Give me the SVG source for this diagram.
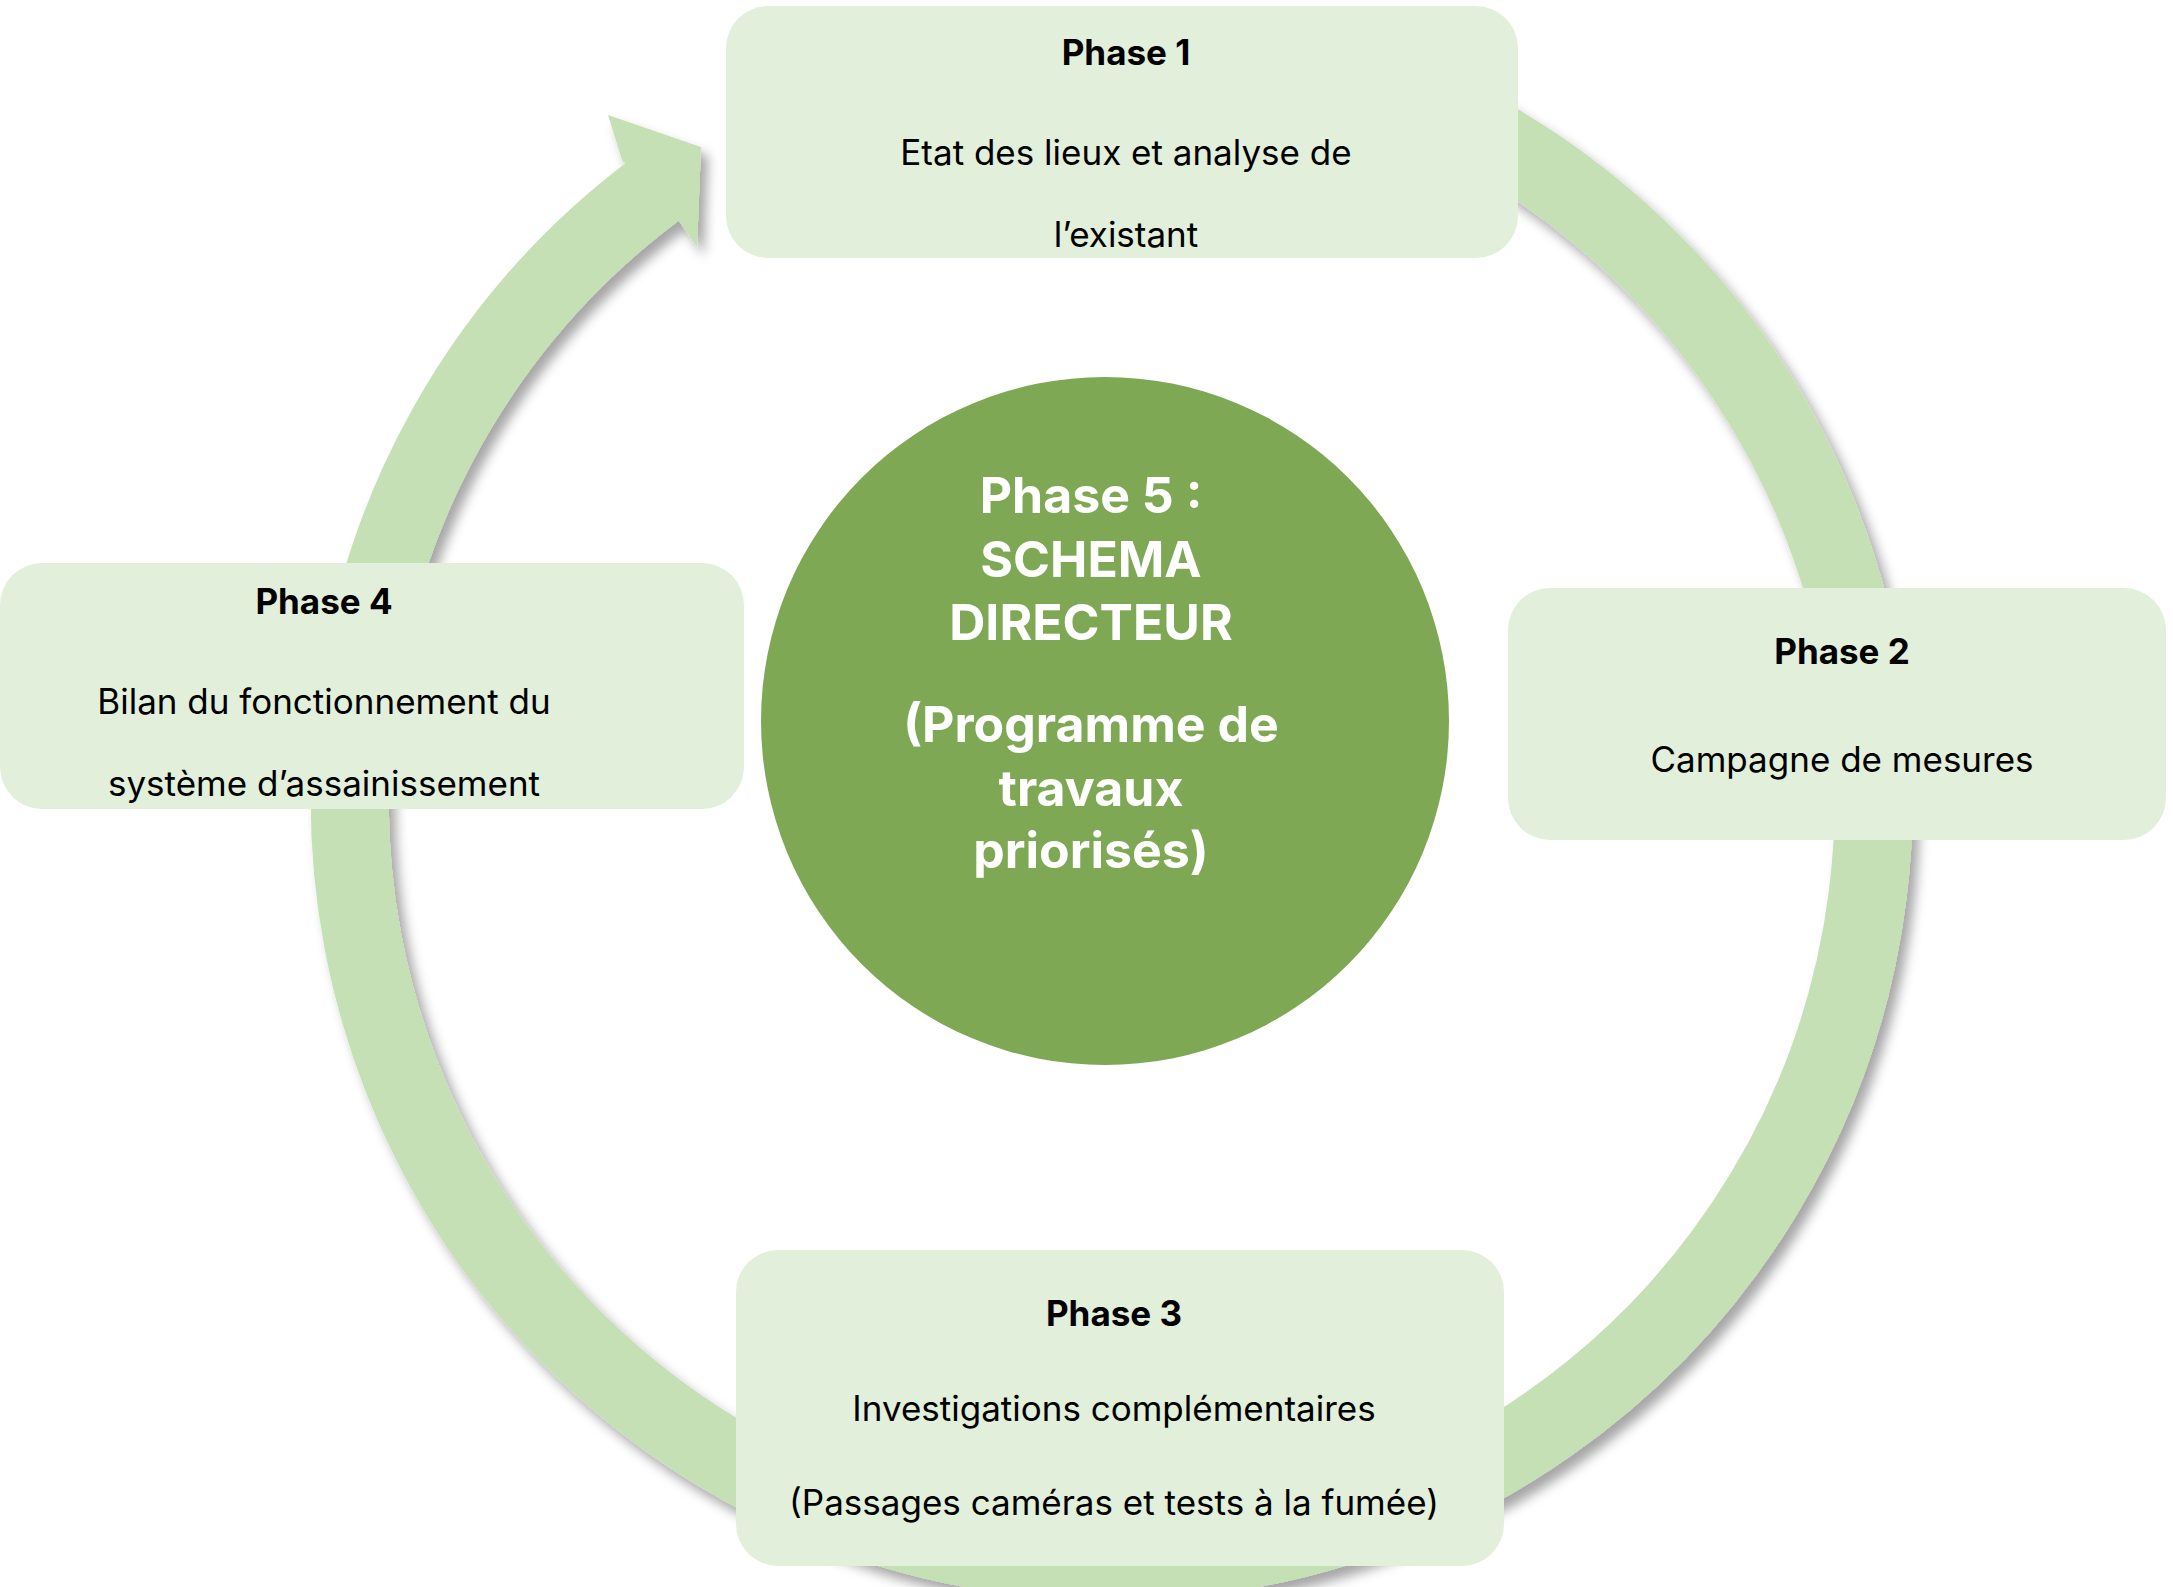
<svg xmlns="http://www.w3.org/2000/svg" width="2173" height="1587" viewBox="0 0 2173 1587">
<defs>
<filter id="sh" x="-10%" y="-10%" width="120%" height="120%"><feDropShadow dx="7" dy="9" stdDeviation="6" flood-color="#000" flood-opacity="0.35"/></filter>
<style>
.box{fill:#E2EFDA}
.t{font-family:Inter,"Open Sans",sans-serif;font-size:35px;fill:#000;text-anchor:middle}
.b{font-weight:bold}
.c{font-family:Inter,"Open Sans",sans-serif;font-size:50px;font-weight:bold;fill:#fff;text-anchor:middle}
</style>
</defs>
<rect width="2173" height="1587" fill="#fff"/>
<g id="connectors" filter="url(#sh)">
<path d="M1373,84 A762,762 0 1 1 656,189" fill="none" stroke="#C5E0B4" stroke-width="78"/>
<polygon points="608,115 701,147 697,247 674,214 622,160" fill="#C5E0B4"/>
</g>
<g id="phase5"><circle cx="1105" cy="721" r="344" fill="#7EA854"/>
<text class="c" x="1091" y="513">Phase 5 :</text>
<text class="c" x="1091" y="577">SCHEMA</text>
<text class="c" x="1091" y="640">DIRECTEUR</text>
<text class="c" x="1091" y="742">(Programme de</text>
<text class="c" x="1091" y="806">travaux</text>
<text class="c" x="1091" y="868">priorisés)</text></g>
<g id="phase1"><rect class="box" x="726" y="6" width="792" height="252" rx="42"/>
<text class="t b" x="1126" y="65">Phase 1</text>
<text class="t" x="1126" y="165">Etat des lieux et analyse de</text>
<text class="t" x="1126" y="247">l’existant</text></g>
<g id="phase2"><rect class="box" x="1508" y="588" width="658" height="252" rx="42"/>
<text class="t b" x="1842" y="664">Phase 2</text>
<text class="t" x="1842" y="772">Campagne de mesures</text></g>
<g id="phase3"><rect class="box" x="736" y="1250" width="768" height="316" rx="42"/>
<text class="t b" x="1114" y="1326">Phase 3</text>
<text class="t" x="1114" y="1421">Investigations complémentaires</text>
<text class="t" x="1114" y="1515">(Passages caméras et tests à la fumée)</text></g>
<g id="phase4"><rect class="box" x="0" y="563" width="744" height="246" rx="42"/>
<text class="t b" x="324" y="614">Phase 4</text>
<text class="t" x="324" y="714">Bilan du fonctionnement du</text>
<text class="t" x="324" y="796">système d’assainissement</text></g>
</svg>
